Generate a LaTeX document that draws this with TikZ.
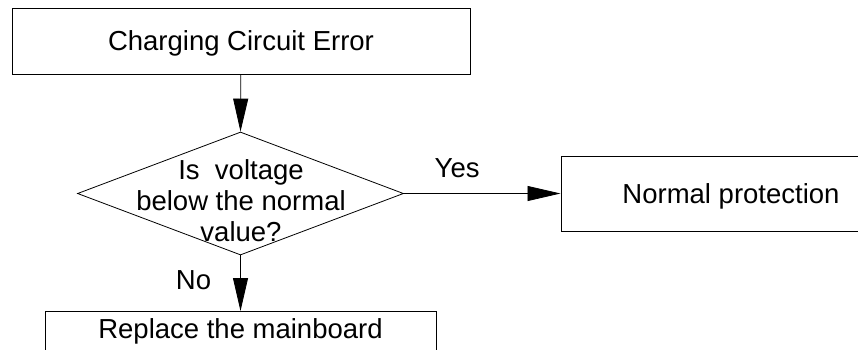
\documentclass[tikz,border=0pt]{standalone}
\usepackage{fontspec}
\setmainfont{Liberation Sans}
\usetikzlibrary{arrows.meta,positioning,shapes.geometric}

\begin{document}
\begin{tikzpicture}[x=1pt,y=-1pt,
    every node/.style={font=\fontsize{27.5}{31}\selectfont},
    procbox/.style={draw,line width=1pt,inner sep=0pt,text depth=0pt},
    decision/.style={draw,diamond,line width=0.8pt,inner sep=0pt,minimum width=326pt,minimum height=123pt},
    flow/.style={-{Triangle[length=33pt,width=15pt]},line width=0.8pt},
    edgelabel/.style={inner sep=0pt}]
  \useasboundingbox (0,0) rectangle (858,349);
  \clip (0,0) rectangle (858,349);
  % Boxes (right and bottom ones run past the page edge)
  \node[procbox,minimum width=458pt,minimum height=66pt] (err) at (241,41) {Charging Circuit Error};
  \node[decision] (chk) at (240.5,193.5) {};
  \node[align=center,inner sep=0pt] (chktext) at (241,201) {Is\ \ voltage\\below the normal\\value?};
  \node[procbox,minimum width=340pt,minimum height=75pt] (prot) at (731,193.5) {Normal protection};
  \node[procbox,anchor=north,minimum width=391pt,inner ysep=7pt,text depth=7pt] (board) at (240.5,311) {Replace the mainboard};
  % Connectors
  \draw[flow] (err) -- (chk.north);
  \draw[flow] (chk.east) -- node[edgelabel,pos=0.34,above=15pt] {Yes} (prot.west);
  \draw[flow] (chk.south) -- node[edgelabel,pos=0.45,left=29pt] {No} (board.north);
\end{tikzpicture}
\end{document}
